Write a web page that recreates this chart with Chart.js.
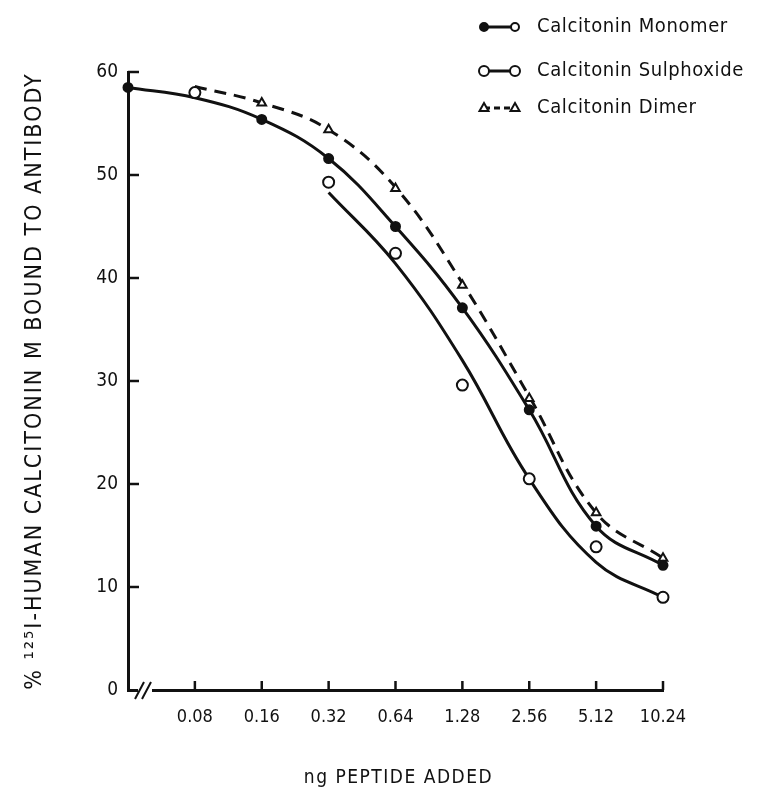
<!DOCTYPE html>
<html>
<head>
<meta charset="utf-8">
<script src="https://cdn.jsdelivr.net/npm/chart.js@4.4.1/dist/chart.umd.min.js"></script>
<style>
  html, body { margin: 0; padding: 0; background: #fff; }
  #wrap { width: 779px; height: 801px; position: relative; }
</style>
</head>
<body>
<div id="wrap"><canvas id="chart" width="779" height="801"></canvas></div>
<script>
// ng peptide added (first position is zero, drawn after the axis break)
const doseLabels = ['0', '0.08', '0.16', '0.32', '0.64', '1.28', '2.56', '5.12', '10.24'];
const yTicks = [0, 10, 20, 30, 40, 50, 60];

// measured points
const monomerPts    = [58.5, null, 55.4, 51.6, 45.0, 37.1, 27.2, 15.9, 12.1];
const sulphoxidePts = [null, 58.0, null, 49.3, 42.4, 29.6, 20.5, 13.9, 9.0];
const dimerPts      = [null, null, 57.0, 54.4, 48.7, 39.3, 28.3, 17.2, 12.8];

// hand drawn curves, read at each dose
const monomerFit    = [58.5, 57.5, 55.4, 51.6, 45.0, 37.1, 27.2, 15.9, 12.1];
const sulphoxideFit = [null, null, null, 48.3, 41.4, 32.0, 20.5, 12.4, 9.0];
const dimerFit      = [null, 58.6, 57.0, 54.4, 48.8, 39.5, 28.5, 17.2, 12.8];

const FONT = "'DejaVu Sans Condensed', 'Liberation Sans Narrow', sans-serif";
const INK = '#111';
const yTitle = '% \u00B9\u00B2\u2075I-HUMAN CALCITONIN M BOUND TO ANTIBODY';
const xTitle = 'ng PEPTIDE ADDED';

const curve = (data, dash) => ({
    type: 'line', data: data, borderColor: INK, borderWidth: 3, borderDash: dash || [],
    pointRadius: 0, fill: false, tension: 0.4, order: 2
});
const marks = (data, style, radius, fillCol) => ({
    type: 'line', data: data, showLine: false, pointStyle: style, pointRadius: radius,
    pointBorderWidth: 2, pointBorderColor: INK, pointBackgroundColor: fillCol, order: 1
});

function drawMark(ctx, style, x, y, r, fillCol) {
    ctx.beginPath();
    if (style === 'triangle') {
        ctx.moveTo(x, y - r);
        ctx.lineTo(x + r * 0.9, y + r * 0.6);
        ctx.lineTo(x - r * 0.9, y + r * 0.6);
        ctx.closePath();
    } else {
        ctx.arc(x, y, r, 0, Math.PI * 2);
    }
    ctx.fillStyle = fillCol;
    ctx.fill();
    ctx.lineWidth = 2;
    ctx.strokeStyle = INK;
    ctx.stroke();
}

const axisDecor = {
    id: 'axisDecor',
    afterDraw(chart) {
        const ctx = chart.ctx;
        const xs = chart.scales.x, ys = chart.scales.y;
        const a = chart.chartArea;
        ctx.save();
        ctx.strokeStyle = INK;
        ctx.lineWidth = 2.5;
        // inward ticks on y
        yTicks.forEach(v => {
            if (v === 0) return;
            const py = ys.getPixelForValue(v);
            ctx.beginPath(); ctx.moveTo(a.left, py); ctx.lineTo(a.left + 11, py); ctx.stroke();
        });
        // upward ticks on x
        doseLabels.forEach((d, i) => {
            if (i === 0) return;
            const px = xs.getPixelForValue(i);
            ctx.beginPath(); ctx.moveTo(px, a.bottom); ctx.lineTo(px, a.bottom - 9); ctx.stroke();
        });
        // axis break
        ctx.fillStyle = '#fff';
        ctx.fillRect(a.left + 10, a.bottom - 3, 14, 6);
        ctx.lineWidth = 2;
        [a.left + 11, a.left + 18].forEach(bx => {
            ctx.beginPath(); ctx.moveTo(bx - 4, a.bottom + 9); ctx.lineTo(bx + 5, a.bottom - 8); ctx.stroke();
        });

        // axis titles, spaced out like the typed original
        ctx.fillStyle = INK;
        ctx.textAlign = 'center';
        ctx.textBaseline = 'middle';
        ctx.font = '19px ' + FONT;
        ctx.letterSpacing = '1.5px';
        ctx.fillText(xTitle, (a.left + a.right) / 2 + 3, 778);
        ctx.save();
        ctx.translate(35, (a.top + a.bottom) / 2);
        ctx.rotate(-Math.PI / 2);
        ctx.font = '23px ' + FONT;
        ctx.letterSpacing = '2px';
        ctx.fillText(yTitle, 0, 0);
        ctx.restore();

        // legend
        const items = [
            { text: 'Calcitonin Monomer', y: 27, style: 'circle', r: 4, fill: INK, dash: [] },
            { text: 'Calcitonin Sulphoxide', y: 71, style: 'circle', r: 5, fill: '#fff', dash: [] },
            { text: 'Calcitonin Dimer', y: 108, style: 'triangle', r: 5, fill: '#fff', dash: [6, 4] }
        ];
        ctx.letterSpacing = '0.6px';
        items.forEach(it => {
            ctx.setLineDash(it.dash);
            ctx.lineWidth = 3;
            ctx.beginPath(); ctx.moveTo(484, it.y); ctx.lineTo(514, it.y); ctx.stroke();
            ctx.setLineDash([]);
            drawMark(ctx, it.style, 484, it.y, it.r, it.fill);
            drawMark(ctx, it.style, 515, it.y, it.r, '#fff');
            ctx.fillStyle = INK;
            ctx.font = '20px ' + FONT;
            ctx.textBaseline = 'middle';
            ctx.textAlign = 'left';
            ctx.fillText(it.text, 537, it.y);
        });
        ctx.restore();
    }
};

new Chart(document.getElementById('chart'), {
    data: {
        labels: doseLabels,
        datasets: [
            curve(monomerFit),
            curve(sulphoxideFit),
            curve(dimerFit, [12, 8]),
            marks(monomerPts, 'circle', 4.5, INK),
            marks(sulphoxidePts, 'circle', 5.5, '#fff'),
            marks(dimerPts, 'triangle', 5, '#fff')
        ]
    },
    options: {
        responsive: false,
        animation: false,
        layout: { padding: { top: 72, right: 116, left: 0, bottom: 0 } },
        plugins: { legend: { display: false }, tooltip: { enabled: false } },
        scales: {
            x: {
                type: 'category',
                offset: false,
                grid: { display: false, drawTicks: false },
                border: { display: true, color: INK, width: 3 },
                ticks: {
                    padding: 17, color: INK, font: { family: FONT, size: 18 },
                    maxRotation: 0, autoSkip: false,
                    callback: (v, i) => i === 0 ? '' : doseLabels[i]
                },
                afterFit: s => { s.height = 111; }
            },
            y: {
                min: 0, max: 60,
                afterBuildTicks: s => { s.ticks = yTicks.map(v => ({ value: v })); },
                grid: { display: false, drawTicks: false },
                border: { display: true, color: INK, width: 3 },
                ticks: { padding: 10, color: INK, font: { family: FONT, size: 19 } },
                afterFit: s => { s.width = 128; }
            }
        }
    },
    plugins: [axisDecor]
});
</script>
</body>
</html>
